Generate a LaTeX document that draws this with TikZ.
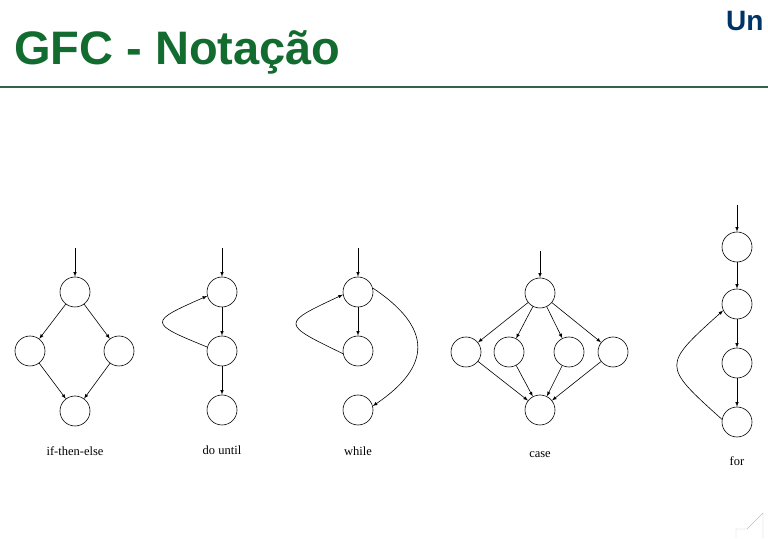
\documentclass[tikz,border=0pt]{standalone}
\usepackage{fontspec}
\setmainfont{Liberation Sans}
\newfontfamily\diagfont{Liberation Serif}
\usetikzlibrary{positioning, arrows}
\definecolor{titlegreen}{RGB}{18,108,48}
\definecolor{rulegreen}{RGB}{50,100,75}
\definecolor{unblue}{RGB}{0,51,102}

\begin{document}
\begin{tikzpicture}[x=1pt, y=1pt, node distance=59pt, >=latex,
    blob/.style={circle, draw, line width=0.6pt, minimum size=30pt, inner sep=0pt},
    caption/.style={font=\diagfont\fontsize{12.5}{14}\selectfont},
    flow/.style={->, line width=0.6pt}]
  \useasboundingbox (0,0) rectangle (768,538);

  % Header
  \node (title) [anchor=base west, inner sep=0pt, text=titlegreen, font=\fontsize{47}{50}\selectfont\bfseries] at (14,473) {GFC - Notação};
  \node (logo) [anchor=base west, inner sep=0pt, text=unblue, font=\fontsize{28}{30}\selectfont\bfseries] at (726,507) {Un};
  \draw[rulegreen, line width=2.5pt] (0,451) -- (768,451);
  \draw[green!50!gray!50, line width=1pt] (722,538) -- (756,538);
  \draw[gray!50] (736,0) -- (736,9) -- (747,9) -- (763,25) -- (763,0);

  % Nodes: if-then-else
  \node (iteTop) [blob] at (75,246) {};
  \node (iteLeft) [blob, below of=iteTop, xshift=-45pt] {};
  \node (iteRight) [blob, below of=iteTop, xshift=44pt] {};
  \node (iteBot) [blob, below of=iteTop, yshift=-60pt] {};
  \coordinate [above of=iteTop, yshift=-15pt] (iteIn);
  \node (iteLabel) [caption, below of=iteBot, yshift=19pt] {if-then-else};

  % Nodes: do until
  \node (duTop) [blob] at (222,246) {};
  \node (duMid) [blob, below of=duTop] {};
  \node (duBot) [blob, below of=duMid] {};
  \coordinate [above of=duTop, yshift=-15pt] (duIn);
  \node (duLabel) [caption, below of=duBot, yshift=19pt] {do until};

  % Nodes: while
  \node (whTop) [blob] at (358,246) {};
  \node (whMid) [blob, below of=whTop] {};
  \node (whBot) [blob, below of=whMid] {};
  \coordinate [above of=whTop, yshift=-15pt] (whIn);
  \node (whLabel) [caption, below of=whBot, yshift=18pt] {while};

  % Nodes: case
  \node (caseTop) [blob] at (540,245) {};
  \node (caseA) [blob, below of=caseTop, xshift=-74pt] {};
  \node (caseB) [blob, below of=caseTop, xshift=-31pt] {};
  \node (caseC) [blob, below of=caseTop, xshift=29pt] {};
  \node (caseD) [blob, below of=caseTop, xshift=73pt] {};
  \node (caseBot) [blob, below of=caseTop, yshift=-58pt] {};
  \coordinate [above of=caseTop, yshift=-17pt] (caseIn);
  \node (caseLabel) [caption, below of=caseBot, yshift=14pt] {case};

  % Nodes: for
  \node (forA) [blob] at (737,291) {};
  \node (forB) [blob, below of=forA, yshift=2pt] {};
  \node (forC) [blob, below of=forB] {};
  \node (forD) [blob, below of=forC] {};
  \coordinate [above of=forA, yshift=-17pt] (forIn);
  \node (forLabel) [caption, below of=forD, yshift=20pt] {for};

  % Arrows
  \draw[flow] (iteIn) -- (iteTop);
  \draw[flow] (iteTop) -- (iteLeft);
  \draw[flow] (iteTop) -- (iteRight);
  \draw[flow] (iteLeft) -- (iteBot);
  \draw[flow] (iteRight) -- (iteBot);

  \draw[flow] (duIn) -- (duTop);
  \draw[flow] (duTop) -- (duMid);
  \draw[flow] (duMid) -- (duBot);
  \draw[flow] (duMid.165) .. controls +(-59,24) and +(-59,-26) .. (duTop.195);

  \draw[flow] (whIn) -- (whTop);
  \draw[flow] (whTop) -- (whMid);
  \draw[flow] (whMid.190) .. controls +(-62,30) and +(-62,-29) .. (whTop.190);
  \draw[flow] (whTop.15) .. controls +(60,-40) and +(59,40) .. (whBot.15);

  \draw[flow] (caseIn) -- (caseTop);
  \foreach \c in {caseA, caseB, caseC, caseD} {
    \draw[flow] (caseTop) -- (\c);
    \draw[flow] (\c) -- (caseBot);
  }

  \draw[flow] (forIn) -- (forA);
  \draw[flow] (forA) -- (forB);
  \draw[flow] (forB) -- (forC);
  \draw[flow] (forC) -- (forD);
  \draw[flow] (forD.170) .. controls +(-60,54) and +(-61,-55) .. (forB.205);
\end{tikzpicture}
\end{document}
